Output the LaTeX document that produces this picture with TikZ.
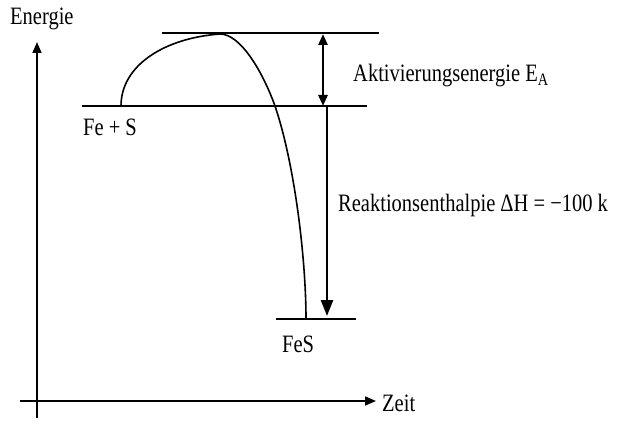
\documentclass[tikz,border=0pt]{standalone}
\usepackage{fontspec}
\setmainfont{Liberation Serif}[FakeStretch=0.82]
\usetikzlibrary{arrows.meta}

\begin{document}
\begin{tikzpicture}[
  x=1pt, y=-1pt,
  level/.style={line width=1.6pt},
  axis/.style={line width=1.6pt, -{Triangle[length=11pt, width=9pt]}},
  gap/.style={line width=2.6pt},
  lab/.style={font=\fontsize{25}{27}\selectfont, inner sep=0pt, anchor=base west}
]
\useasboundingbox (0,0) rectangle (620,427);

% ── axes ─────────────────────────────────────────────────────────────
\coordinate (ybot)   at (37,418);
\coordinate (ytop)   at (37,42);
\coordinate (xleft)  at (20,401);
\coordinate (xright) at (376,401);
\draw[axis] (ybot) -- (ytop);
\draw[axis] (xleft) -- (xright);
\node[lab] (energie) at (10,25)  {Energie};
\node[lab] (zeit)    at (382,411) {Zeit};

% ── energy levels ────────────────────────────────────────────────────
\coordinate (edl) at (82,106);
\coordinate (edr) at (367,106);
\coordinate (pkl) at (162,33);
\coordinate (pkr) at (379,33);
\coordinate (prl) at (276,319);
\coordinate (prr) at (356,319);
\draw[level] (edl) -- (edr);
\draw[level] (pkl) -- (pkr);
\draw[level] (prl) -- (prr);
\node[lab] (educt)   at (83,136)  {Fe + S};
\node[lab] (product) at (282,352) {FeS};

% ── reaction path ────────────────────────────────────────────────────
\coordinate (start) at (121,106);
\coordinate (top)   at (220,34);
\coordinate (cross) at (275,106);
\coordinate (stop)  at (306,319);
\draw[level] (start) .. controls (121,65) and (165,38) .. (top)
      .. controls (240,34) and (262,70) .. (cross)
      .. controls (295,165) and (306,260) .. (stop);

% ── energy differences ───────────────────────────────────────────────
\coordinate (eatop) at (323,34);
\coordinate (eabot) at (323,106);
\coordinate (dhtop) at (327,107);
\coordinate (dhbot) at (327,316);
\draw[gap, {Triangle[length=11pt, width=9pt]}-{Triangle[length=11pt, width=9pt]}]
      (eatop) -- (eabot);
\draw[gap, -{Triangle[length=16pt, width=12pt]}] (dhtop) -- (dhbot);
\node[lab] (ealab) at (353,82)  {Aktivierungsenergie E\textsubscript{A}};
\node[lab] (dhlab) at (338,212) {Reaktionsenthalpie ΔH = −100 k};

\end{tikzpicture}
\end{document}
